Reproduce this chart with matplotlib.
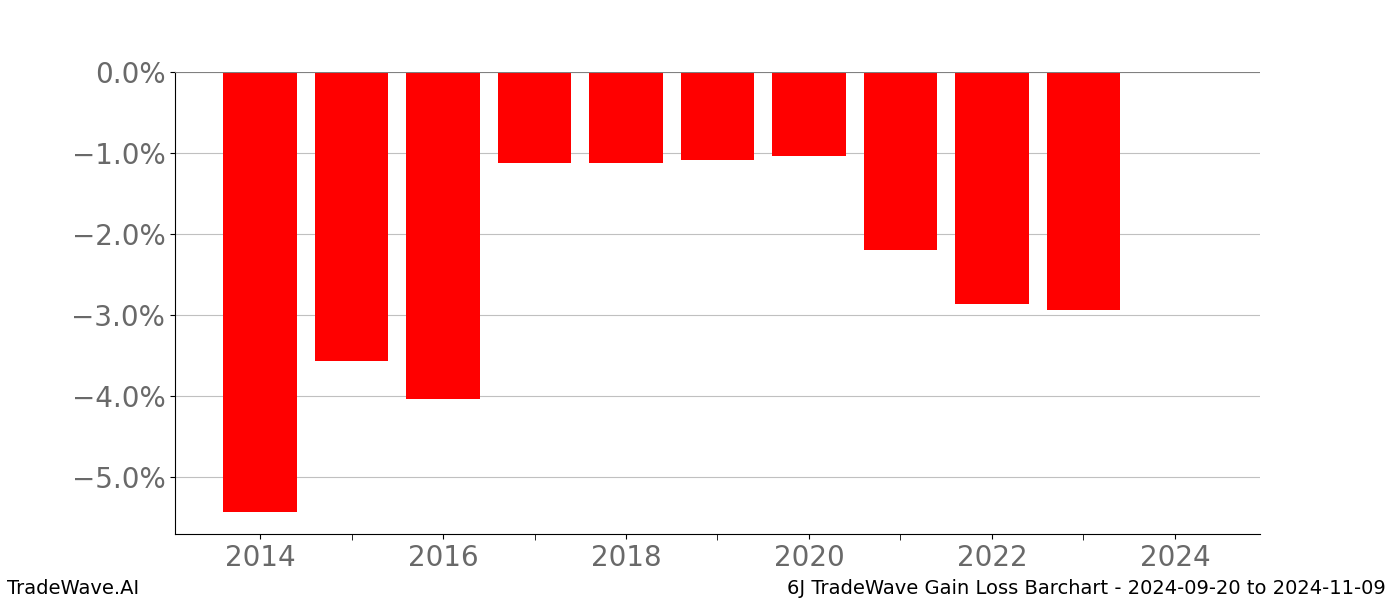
import matplotlib
matplotlib.use('Agg')
import matplotlib.pyplot as plt
from matplotlib.ticker import FuncFormatter, MultipleLocator

# yearly gain/loss values (percent)
years = [2014, 2015, 2016, 2017, 2018, 2019, 2020, 2021, 2022, 2023]
values = [-5.43, -3.57, -4.04, -1.12, -1.12, -1.09, -1.04, -2.20, -2.86, -2.94]

fig = plt.figure(figsize=(14, 6), dpi=100)
ax = fig.add_subplot(111)

ax.bar(years, values, width=0.8, color='red', zorder=2)
ax.axhline(0, color='gray', lw=1.5, zorder=3)

ax.set_xlim(2013.07, 2024.93)
ax.set_ylim(-5.70, 0)

ax.xaxis.set_major_locator(MultipleLocator(2))
ax.xaxis.set_minor_locator(MultipleLocator(1))
ax.yaxis.set_major_locator(MultipleLocator(1))
ax.yaxis.set_major_formatter(FuncFormatter(lambda v, p: '{:.1f}%'.format(v).replace('-', '\u2212')))

ax.grid(axis='y', color='#c0c0c0', lw=0.8, zorder=0)
ax.tick_params(axis='both', labelsize=20, labelcolor='dimgray')
ax.tick_params(axis='x', which='minor', length=4)
ax.spines['top'].set_visible(False)
ax.spines['right'].set_visible(False)

fig.text(0.005, 0.01, 'TradeWave.AI', fontsize=14, ha='left')
fig.text(0.99, 0.01, '6J TradeWave Gain Loss Barchart - 2024-09-20 to 2024-11-09',
         fontsize=14, ha='right')

fig.savefig('out.png', dpi=100)
